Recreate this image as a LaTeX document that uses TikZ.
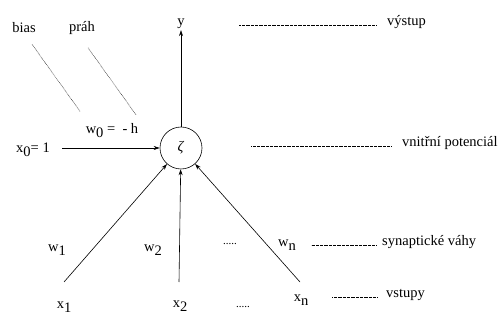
\documentclass[tikz,border=0pt]{standalone}
\usepackage{fontspec}
\setmainfont{Liberation Serif}
\usetikzlibrary{positioning,arrows.meta}
\newcommand{\lo}[1]{\raisebox{-0.6ex}{#1}}

\begin{document}
\begin{tikzpicture}[
        x=1pt, y=-1pt,
        every node/.style={font=\fontsize{14.5}{16}\selectfont, inner sep=1pt},
        neuron/.style={draw, circle, minimum size=42pt, inner sep=0pt, line width=0.6pt},
        syn/.style={-{Stealth[length=6pt, width=4pt]}, line width=0.6pt},
        leader/.style={line width=0.5pt, dash pattern=on 0.5pt off 0.8pt}
    ]
    \useasboundingbox (0,0) rectangle (503,320);
    \node[neuron] (neuron) at (181,148) {\textit{ζ}};
    \node (y) at (181,24) {y};
    \node (bias) at (24,28) {bias};
    \node (prah) at (82,28) {práh};
    \node (x0) at (33,150) {x\lo{0}= 1};
    \node (w0) at (112,131) {w\lo{0} =~ - h};
    \node (w1) at (57,250) {w\lo{1}};
    \node (w2) at (153,250) {w\lo{2}};
    \node (wn) at (287,245) {w\lo{n}};
    \node (dots1) at (230,244) {\fontsize{11}{11}\selectfont .....};
    \node (x1) at (64,307) {x\lo{1}};
    \node (x2) at (180,306) {x\lo{2}};
    \node (xn) at (301,300) {x\lo{n}};
    \node (dots2) at (243,307) {\fontsize{11}{11}\selectfont .....};
    \node[anchor=west] (vystup) at (386,22) {výstup};
    \node[anchor=west] (potencial) at (401,143) {vnitřní potenciál};
    \node[anchor=west] (vahy) at (381,242) {synaptické váhy};
    \node[anchor=west] (vstupy) at (385,295) {vstupy};
    \coordinate (in0) at (62,148);
    \coordinate (in1) at (64,282);
    \coordinate (in2) at (179,282);
    \coordinate (inn) at (300,282);
    \draw[syn] (in0) -- (neuron);
    \draw[syn] (in1) -- (neuron);
    \draw[syn] (in2) -- (neuron);
    \draw[syn] (inn) -- (neuron);
    \draw[syn] (neuron) -- (y);
    \draw[leader] ([shift={(8,10)}]bias.south) -- ++(48,67);
    \draw[leader] ([shift={(6,12)}]prah.south) -- ++(48,67);
    \draw[leader] ([xshift=-10pt]vystup.base west) -- ++(-137,0);
    \draw[leader] ([xshift=-10pt]potencial.base west) -- ++(-140,0);
    \draw[leader] ([xshift=-5pt]vahy.base west) -- ++(-65,0);
    \draw[leader] ([xshift=-8pt]vstupy.base west) -- ++(-45,0);
\end{tikzpicture}
\end{document}
